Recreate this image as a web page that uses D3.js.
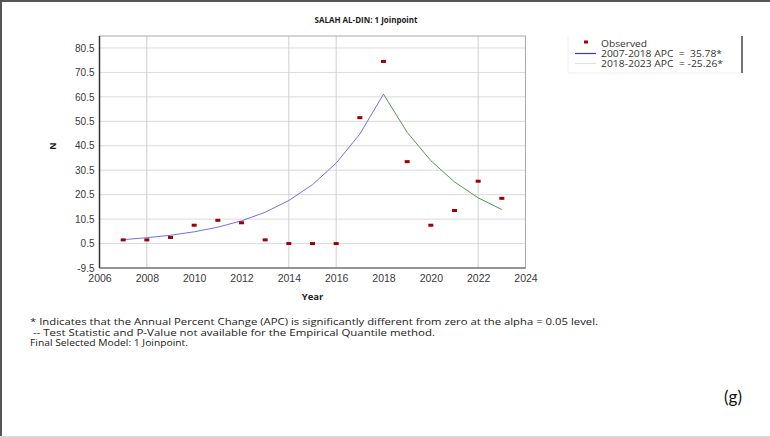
<!DOCTYPE html>
<html>
<head>
<meta charset="utf-8">
<script src="https://cdn.jsdelivr.net/npm/d3@7"></script>
<style>
  body { margin: 0; background: #fff; }
  svg { display: block; font-family: "Open Sans", "Noto Sans", sans-serif; }
  .axis path { display: none; }
  .axis line { display: none; }
  .axis text { fill: #3a3a3a; font-size: 10px; }
</style>
</head>
<body>
<div id="chart"></div>
<script>
// observed counts per year
const years = [2007, 2008, 2009, 2010, 2011, 2012, 2013, 2014, 2015, 2016, 2017, 2018, 2019, 2020, 2021, 2022, 2023];
const observed = [2, 2, 3, 8, 10, 9, 2, 0.5, 0.5, 0.5, 52, 75, 34, 8, 14, 26, 19];

// modelled (joinpoint) values, segment 1 and segment 2
const fitYears1 = [2007, 2008, 2009, 2010, 2011, 2012, 2013, 2014, 2015, 2016, 2017, 2018];
const fitValues1 = [2.1, 2.9, 3.9, 5.3, 7.2, 9.8, 13.3, 18.1, 24.6, 33.4, 45.3, 61.6];
const fitYears2 = [2018, 2019, 2020, 2021, 2022, 2023];
const fitValues2 = [61.6, 46.0, 34.4, 25.7, 19.2, 14.4];

const xTicks = [2006, 2008, 2010, 2012, 2014, 2016, 2018, 2020, 2022, 2024];
const yTicks = [-9.5, 0.5, 10.5, 20.5, 30.5, 40.5, 50.5, 60.5, 70.5, 80.5];
const xGrid = [2008, 2014, 2016, 2022];

const legendLabels = ["Observed", "2007-2018 APC  =  35.78*", "2018-2023 APC  = -25.26*"];
const notes = [
    "* Indicates that the Annual Percent Change (APC) is significantly different from zero at the alpha = 0.05 level.",
    " -- Test Statistic and P-Value not available for the Empirical Quantile method.",
    "Final Selected Model: 1 Joinpoint."
];

const width = 770, height = 437;
const plot = {left: 99.5, right: 525.5, top: 36, bottom: 268};

const svg = d3.select("#chart").append("svg")
    .attr("width", width)
    .attr("height", height);

// outer frame
svg.append("line").attr("x1", 0).attr("x2", width).attr("y1", 1).attr("y2", 1)
    .attr("stroke", "#555").attr("stroke-width", 2);
svg.append("line").attr("x1", 1).attr("x2", 1).attr("y1", 0).attr("y2", height)
    .attr("stroke", "#555").attr("stroke-width", 2);
svg.append("line").attr("x1", 0).attr("x2", width).attr("y1", height - 0.5).attr("y2", height - 0.5)
    .attr("stroke", "#ddd").attr("stroke-width", 1);

const xScale = d3.scaleLinear().domain([2006, 2024]).range([plot.left, plot.right]);
const yScale = d3.scaleLinear().domain([-9.5, 85.4]).range([plot.bottom, plot.top]);

// gridlines
svg.append("g")
    .selectAll("line")
    .data(yTicks.filter(d => d > -9.5))
    .join("line")
    .attr("x1", plot.left).attr("x2", plot.right)
    .attr("y1", d => yScale(d)).attr("y2", d => yScale(d))
    .attr("stroke", "#b5b5b5")
    .attr("stroke-dasharray", "1 1");

svg.append("g")
    .selectAll("line")
    .data(xGrid)
    .join("line")
    .attr("x1", d => xScale(d)).attr("x2", d => xScale(d))
    .attr("y1", plot.top).attr("y2", plot.bottom)
    .attr("stroke", "#cfcfcf");

// plot border
svg.append("rect")
    .attr("x", plot.left).attr("y", plot.top)
    .attr("width", plot.right - plot.left).attr("height", plot.bottom - plot.top)
    .attr("fill", "none").attr("stroke", "#aaa");
svg.append("line")
    .attr("x1", plot.left).attr("x2", plot.left).attr("y1", plot.top).attr("y2", plot.bottom)
    .attr("stroke", "#333").attr("stroke-width", 1.5);
svg.append("line")
    .attr("x1", plot.left).attr("x2", plot.right).attr("y1", plot.bottom).attr("y2", plot.bottom)
    .attr("stroke", "#555").attr("stroke-width", 1.2);

// axes
svg.append("g")
    .attr("class", "axis")
    .attr("transform", "translate(" + (plot.left - 5) + ",0)")
    .call(d3.axisLeft(yScale).tickValues(yTicks).tickSize(0).tickPadding(0).tickFormat(d => d.toFixed(1)));

svg.append("g")
    .attr("class", "axis")
    .attr("transform", "translate(0," + (plot.bottom + 7) + ")")
    .call(d3.axisBottom(xScale).tickValues(xTicks).tickSize(0).tickPadding(0).tickFormat(d3.format("d")))
    .selectAll("text").style("font-size", "10.5px");

// fitted lines
const line = d3.line().x(d => xScale(d[0])).y(d => yScale(d[1]));
svg.append("path")
    .datum(d3.zip(fitYears1, fitValues1))
    .attr("d", line)
    .attr("fill", "none")
    .attr("stroke", "#6f6ff5")
    .attr("stroke-width", 1);
svg.append("path")
    .datum(d3.zip(fitYears2, fitValues2))
    .attr("d", line)
    .attr("fill", "none")
    .attr("stroke", "#4f9a4f")
    .attr("stroke-width", 1);

// observed points
svg.append("g")
    .selectAll("rect")
    .data(d3.zip(years, observed))
    .join("rect")
    .attr("x", d => xScale(d[0]) - 2.5)
    .attr("y", d => yScale(d[1]) - 1.5)
    .attr("width", 5)
    .attr("height", 3)
    .attr("fill", "#a00000");

// titles
svg.append("text")
    .attr("x", 366).attr("y", 23)
    .attr("text-anchor", "middle")
    .attr("font-weight", "bold")
    .attr("font-size", "9.5px")
    .attr("fill", "#1a1a1a")
    .attr("textLength", 103)
    .attr("lengthAdjust", "spacingAndGlyphs")
    .text("SALAH AL-DIN: 1 Joinpoint");

svg.append("text")
    .attr("transform", "translate(56,146) rotate(-90)")
    .attr("text-anchor", "middle")
    .attr("font-weight", "bold")
    .attr("font-size", "9px")
    .attr("fill", "#222")
    .text("N");

svg.append("text")
    .attr("x", 312.5).attr("y", 300)
    .attr("text-anchor", "middle")
    .attr("font-weight", "bold")
    .attr("font-size", "9.5px")
    .attr("fill", "#222")
    .text("Year");

// legend
const legend = svg.append("g");
legend.append("line").attr("x1", 568).attr("x2", 568).attr("y1", 36).attr("y2", 73)
    .attr("stroke", "#eee");
legend.append("line").attr("x1", 568).attr("x2", 742).attr("y1", 73).attr("y2", 73)
    .attr("stroke", "#eee");
legend.append("line").attr("x1", 742).attr("x2", 742).attr("y1", 36).attr("y2", 73)
    .attr("stroke", "#444").attr("stroke-width", 1.5);

legend.append("rect").attr("x", 584).attr("y", 40.5).attr("width", 4).attr("height", 3)
    .attr("fill", "#a00000");
legend.append("line").attr("x1", 575).attr("x2", 596).attr("y1", 53.5).attr("y2", 53.5)
    .attr("stroke", "#3535d0").attr("stroke-width", 1.2);
legend.append("line").attr("x1", 575).attr("x2", 596).attr("y1", 63.5).attr("y2", 63.5)
    .attr("stroke", "#d9e8d9").attr("stroke-width", 1.2);

const legendWidths = [46, 121, 122];
legend.selectAll("text.lab")
    .data(legendLabels)
    .join("text")
    .attr("class", "lab")
    .attr("x", 601)
    .attr("y", (d, i) => 47 + i * 10)
    .attr("font-size", "8.5px")
    .attr("fill", "#333")
    .attr("textLength", (d, i) => legendWidths[i])
    .attr("lengthAdjust", "spacingAndGlyphs")
    .style("white-space", "pre")
    .text(d => d);

// footnotes
const noteWidths = [568, 405, 158];
svg.selectAll("text.note")
    .data(notes)
    .join("text")
    .attr("class", "note")
    .attr("x", 30)
    .attr("y", (d, i) => 325 + i * 10.5)
    .attr("font-size", "8.5px")
    .attr("fill", "#222")
    .attr("textLength", (d, i) => noteWidths[i])
    .attr("lengthAdjust", "spacingAndGlyphs")
    .style("white-space", "pre")
    .text(d => d);

svg.append("text")
    .attr("x", 724).attr("y", 403)
    .attr("font-family", "Lato, Carlito, sans-serif")
    .attr("font-size", "17px")
    .attr("fill", "#111")
    .text("(g)");
</script>
</body>
</html>
